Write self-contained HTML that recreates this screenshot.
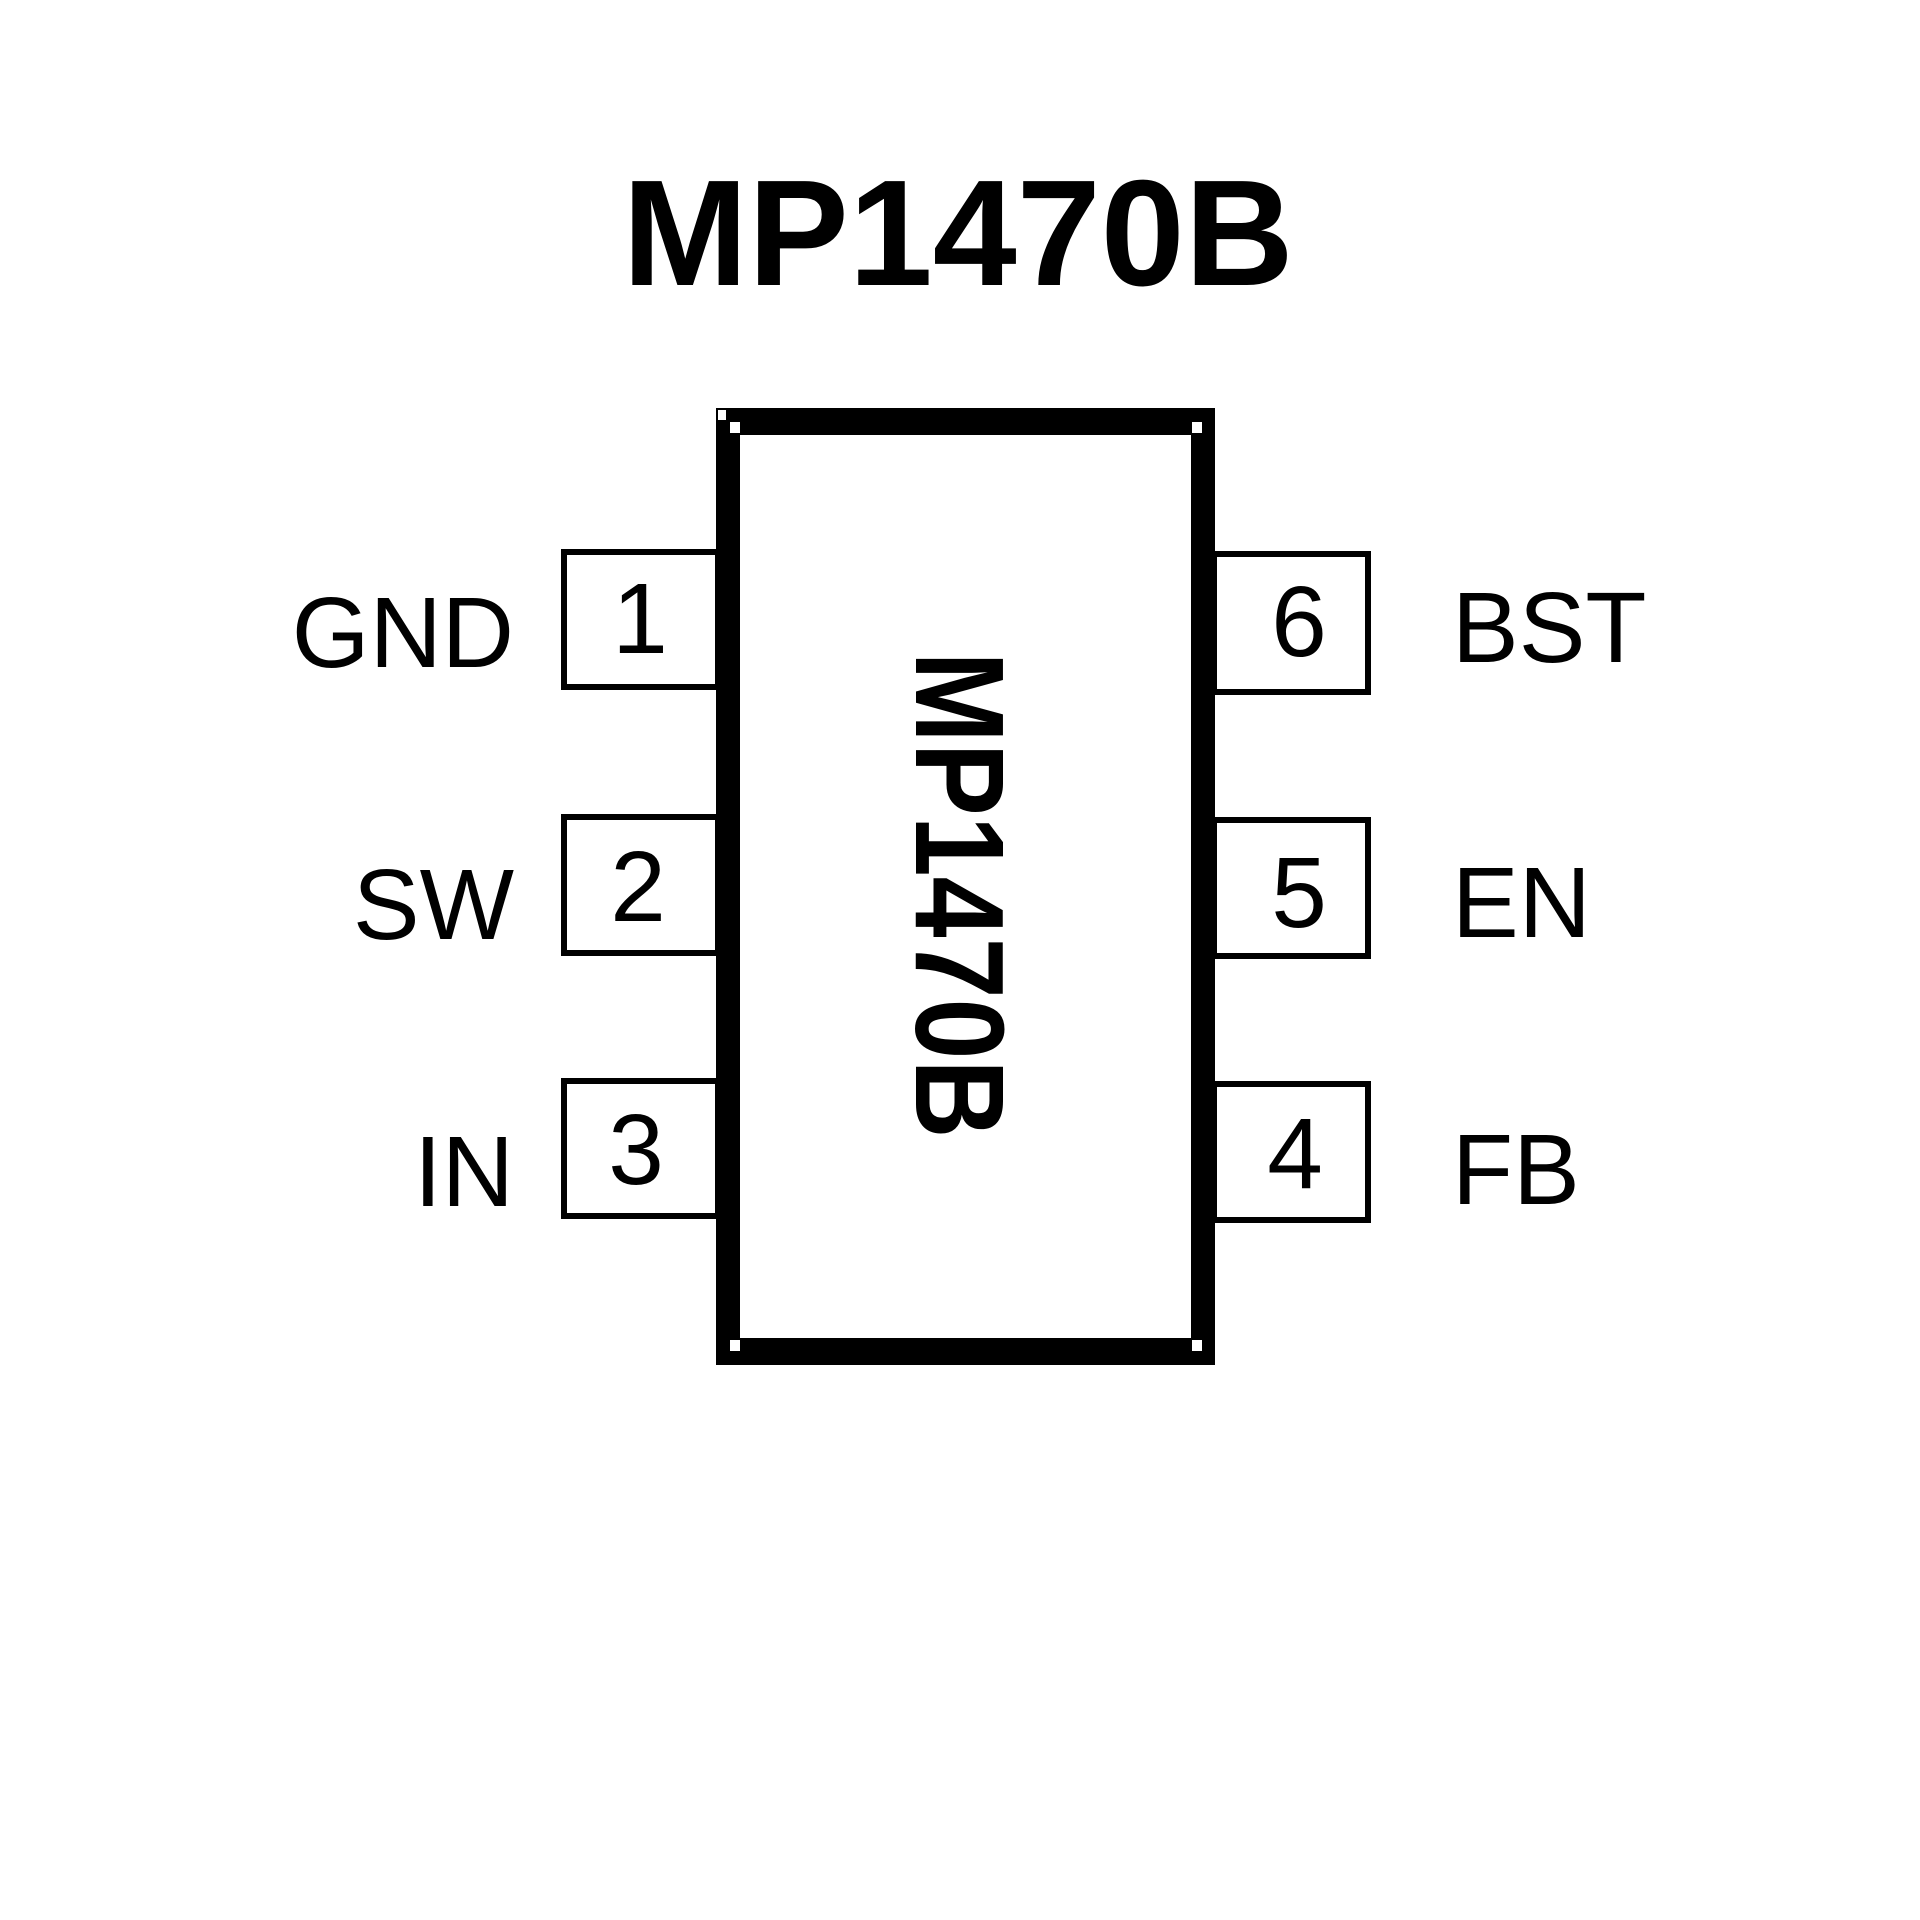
<!DOCTYPE html>
<html><head><meta charset="utf-8"><style>body{margin:0;background:#fff}svg{display:block}</style></head>
<body>
<svg width="1920" height="1920" viewBox="0 0 1920 1920" xmlns="http://www.w3.org/2000/svg" font-family="Liberation Sans, sans-serif">
<rect width="1920" height="1920" fill="#fff"/>
<text x="958" y="285" font-size="151" font-weight="bold" text-anchor="middle">MP1470B</text>
<!-- body -->
<rect x="716" y="408" width="499" height="957" fill="#000"/>
<rect x="740" y="435" width="451" height="903" fill="#fff"/>
<rect x="718" y="410" width="8" height="10" fill="#fff"/>
<rect x="730" y="422" width="10" height="11" fill="#fff"/>
<rect x="1192" y="422" width="10" height="11" fill="#fff"/>
<rect x="730" y="1340" width="10" height="11" fill="#fff"/>
<rect x="1192" y="1340" width="10" height="11" fill="#fff"/>
<!-- pins -->
<g fill="none" stroke="#000" stroke-width="6">
<rect x="564" y="552" width="154" height="135"/>
<rect x="564" y="817" width="154" height="136"/>
<rect x="564" y="1081" width="154" height="135"/>
<rect x="1214" y="554" width="154" height="138"/>
<rect x="1214" y="820" width="154" height="136"/>
<rect x="1214" y="1084" width="154" height="136"/>
</g>
<g font-size="100" text-anchor="middle">
<text x="640" y="653">1</text>
<text x="638" y="921">2</text>
<text x="636" y="1184">3</text>
<text x="1299" y="656">6</text>
<text x="1299" y="927">5</text>
<text x="1295" y="1188">4</text>
</g>
<g font-size="100" text-anchor="end">
<text x="514" y="667">GND</text>
<text x="514" y="939">SW</text>
<text x="514" y="1206">IN</text>
</g>
<g font-size="100">
<text x="1452" y="662">BST</text>
<text x="1452" y="937">EN</text>
<text x="1452" y="1204">FB</text>
</g>
<text transform="translate(916,895) rotate(90)" font-size="126" font-weight="bold" text-anchor="middle" textLength="487" lengthAdjust="spacingAndGlyphs">MP1470B</text>
</svg>
</body></html>
